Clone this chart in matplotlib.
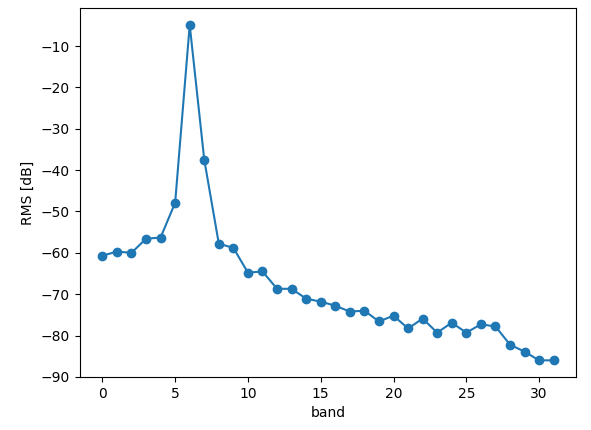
import matplotlib
matplotlib.use("Agg")
import matplotlib.pyplot as plt

bands = list(range(32))
rms_db = [-60.7, -59.7, -60.0, -56.6, -56.3, -47.9, -4.9, -37.5, -57.8, -58.8,
          -64.8, -64.5, -68.7, -68.7, -71.1, -71.8, -72.8, -74.2, -74.0, -76.6,
          -75.2, -78.3, -75.9, -79.3, -76.9, -79.3, -77.3, -77.8, -82.2, -83.9,
          -86.0, -86.0]

fig, ax = plt.subplots(figsize=(5.91, 4.3), dpi=100)
fig.subplots_adjust(left=0.135, right=0.975, top=0.981, bottom=0.123)
ax.plot(bands, rms_db, marker='o')
ax.set_xlabel('band')
ax.set_ylabel('RMS [dB]')
fig.savefig('out.png')
